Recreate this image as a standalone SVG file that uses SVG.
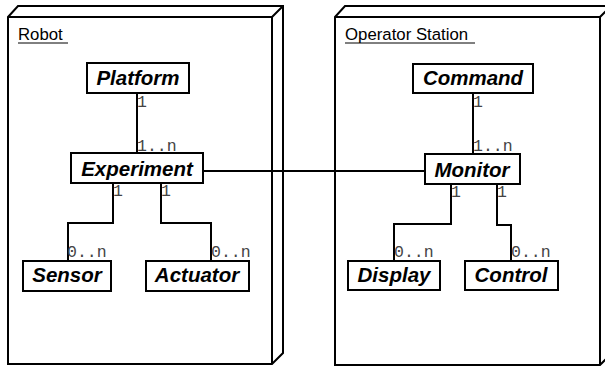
<svg xmlns="http://www.w3.org/2000/svg" width="605" height="367" viewBox="0 0 605 367">
<style>
.node{fill:#fff;stroke:#000;stroke-width:2}
.dev{fill:#fff;stroke:#000;stroke-width:2;stroke-linejoin:miter}
.name{font-family:"Liberation Sans",Arial,sans-serif;font-weight:bold;font-style:italic;font-size:20.5px;text-anchor:middle;fill:#000}
.title{font-family:"Liberation Sans",Arial,sans-serif;font-size:16.8px;fill:#000}
.mult{font-family:"Liberation Mono","Courier New",monospace;font-size:16.5px;fill:#444}
.conn{fill:none;stroke:#000;stroke-width:2}
.ul{stroke:#000;stroke-width:1}
</style>
<rect width="605" height="367" fill="#fff"/>
<g id="robot">
<path class="dev" d="M8,17 L18,6 L283,6 L283,353 L272,364 L8,364 Z"/>
<path class="dev" d="M8,17 L272,17 L272,364 M272,17 L283,6"/>
<text class="title" x="18" y="40">Robot</text>
<line class="ul" x1="18" y1="43" x2="68" y2="43"/>
</g>
<g id="operator-station">
<path class="dev" d="M335,17 L345,6 L611,6 L611,354 L600,365 L335,365 Z"/>
<path class="dev" d="M335,17 L600,17 L600,365 M600,17 L611,6"/>
<text class="title" x="345" y="40">Operator Station</text>
<line class="ul" x1="345" y1="43" x2="475" y2="43"/>
</g>
<g id="connectors">
<polyline class="conn" points="137,93 137,153"/>
<polyline class="conn" points="203,171 425,171"/>
<polyline class="conn" points="113,183 113,223 68,223 68,261"/>
<polyline class="conn" points="161,183 161,223 211,223 211,261"/>
<polyline class="conn" points="473,93 473,154"/>
<polyline class="conn" points="451,184 451,224 394,224 394,261"/>
<polyline class="conn" points="497,184 497,225 511,225 511,261"/>
<text class="mult" x="137" y="107">1</text>
<text class="mult" x="137" y="151">1..n</text>
<text class="mult" x="113" y="196">1</text>
<text class="mult" x="161" y="196">1</text>
<text class="mult" x="67" y="257">0..n</text>
<text class="mult" x="211" y="257">0..n</text>
<text class="mult" x="473" y="107">1</text>
<text class="mult" x="473" y="151">1..n</text>
<text class="mult" x="451" y="197">1</text>
<text class="mult" x="497" y="197">1</text>
<text class="mult" x="394" y="257">0..n</text>
<text class="mult" x="511" y="257">0..n</text>
</g>
<g id="platform"><rect class="node" x="87" y="63" width="102" height="30"/><text class="name" x="138" y="85">Platform</text></g>
<g id="experiment"><rect class="node" x="71" y="153" width="132" height="30"/><text class="name" x="137" y="176">Experiment</text></g>
<g id="sensor"><rect class="node" x="23" y="261" width="88" height="30"/><text class="name" x="67" y="282">Sensor</text></g>
<g id="actuator"><rect class="node" x="146" y="261" width="103" height="30"/><text class="name" x="197" y="282">Actuator</text></g>
<g id="command"><rect class="node" x="413" y="64" width="120" height="29"/><text class="name" x="473" y="85">Command</text></g>
<g id="monitor"><rect class="node" x="425" y="154" width="95" height="30"/><text class="name" x="472" y="177">Monitor</text></g>
<g id="display"><rect class="node" x="348" y="261" width="92" height="29"/><text class="name" x="394" y="282">Display</text></g>
<g id="control"><rect class="node" x="465" y="261" width="93" height="29"/><text class="name" x="511" y="282">Control</text></g>
</svg>
